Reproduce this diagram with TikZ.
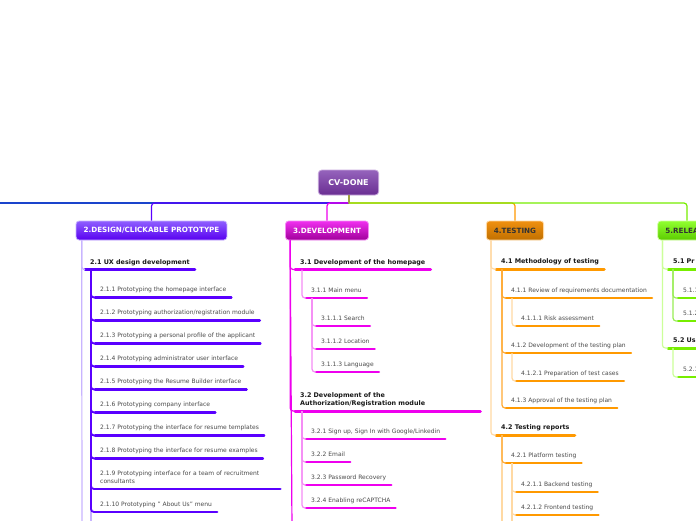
\documentclass[tikz,border=0pt]{standalone}
\usepackage{fontspec}
\setmainfont{DejaVu Sans}
\definecolor{cP}{HTML}{5A00FF}
\definecolor{cPl}{HTML}{C8B4FF}
\definecolor{cM}{HTML}{EE00EE}
\definecolor{cMl}{HTML}{F58CF5}
\definecolor{cO}{HTML}{FF9900}
\definecolor{cOm}{HTML}{FFAA33}
\definecolor{cOl}{HTML}{FFD9A3}
\definecolor{cG}{HTML}{77EE00}
\definecolor{cGm}{HTML}{99EE55}
\definecolor{cGl}{HTML}{CCFF99}
\definecolor{cB}{HTML}{1A44CC}
\definecolor{cOlv}{HTML}{A0A040}
\definecolor{txt}{HTML}{4A4A4A}
\definecolor{dtxt}{HTML}{333333}
\definecolor{cvT}{HTML}{9563BC}
\definecolor{cvB}{HTML}{6A2E92}
\definecolor{cvD}{HTML}{C8A8DD}
\definecolor{pT}{HTML}{8F5FFF}
\definecolor{pB}{HTML}{5800F0}
\definecolor{mT}{HTML}{F030F0}
\definecolor{mB}{HTML}{A0009A}
\definecolor{oT}{HTML}{F09010}
\definecolor{oB}{HTML}{C07000}
\definecolor{gT}{HTML}{90FF30}
\definecolor{gB}{HTML}{5CCC00}
\begin{document}
\begin{tikzpicture}[x=1pt,y=-1pt,
  box/.style={rounded corners=3pt, minimum height=19pt, inner xsep=7.5pt, inner ysep=0pt,
    font=\bfseries\fontsize{7.2}{8}\selectfont, line width=0.8pt},
  lvtwo/.style={anchor=south west, inner xsep=5pt, inner ysep=3.2pt,
    font=\bfseries\fontsize{6.4}{8}\selectfont, text=black!90,
    execute at end node={\rule[-0.3em]{0pt}{0.3em}}},
  lvthree/.style={anchor=south west, inner xsep=5pt, inner ysep=3.9pt,
    font=\fontsize{6}{8}\selectfont, text=txt,
    execute at end node={\rule[-0.3em]{0pt}{0.3em}}},
  ul/.style={append after command={(\tikzlastnode.south west) edge[draw=#1, line width=2.4pt, line cap=round] (\tikzlastnode.south east)}},
  ultwo/.style={append after command={(\tikzlastnode.south west) edge[draw=#1, line width=3pt, line cap=round] (\tikzlastnode.south east)}},
  topline/.style={line width=1.2pt, rounded corners=3pt},
  conn/.style={line width=1.2pt, rounded corners=3pt},
  connd/.style={line width=1.8pt, rounded corners=3pt}
]
\path[use as bounding box, fill=white] (0,0) rectangle (696,520);

% central and main topics
\node[box, rounded corners=3.5pt, minimum height=25pt, inner xsep=10pt, font=\bfseries\fontsize{8}{9}\selectfont,
  top color=cvT, bottom color=cvB, draw=cvD, text=white] (cv) at (348.5,182.5) {CV-DONE};
\node[box, top color=pT, bottom color=pB, draw=cPl, text=white] (d2) at (151.5,230.5) {2.DESIGN/CLICKABLE PROTOTYPE};
\node[box, top color=mT, bottom color=mB, draw=cMl, text=white] (d3) at (327,230.5) {3.DEVELOPMENT};
\node[box, top color=oT, bottom color=oB, draw=cOl, text=dtxt] (d4) at (515,230.5) {4.TESTING};
\node[box, top color=gT, bottom color=gB, draw=cGl, text=dtxt] (d5) at (687,230.5) {5.RELEASE};

% top connectors
\coordinate (hub) at (348.5,203);
\coordinate (w1) at (-60,203);
\draw[cB, topline] (hub) -- (w1);
\draw[cP, topline] (hub) -- (hub -| d2.north) -- (d2.north);
\draw[cM, topline] (hub) -- (hub -| d3.north) -- (d3.north);
\draw[cO, topline] (hub) -- (hub -| d4.north) -- (d4.north);
\draw[cG, topline] (hub) -- (hub -| d5.north) -- (d5.north);
\draw[cOlv, line width=2pt] (cv.south) -- (hub);

% ---- branch 2
\node[lvtwo, ultwo=cP] (n21) at (85,269.5) {2.1 UX design development};
\node[lvthree, ul=cP] (n211) at (95,297.5) {2.1.1 Prototyping the homepage interface};
\node[lvthree, ul=cP] (n212) at (95,320.5) {2.1.2 Prototyping authorization/registration module};
\node[lvthree, ul=cP] (n213) at (95,343.5) {2.1.3 Prototyping a personal profile of the applicant};
\node[lvthree, ul=cP] (n214) at (95,366.5) {2.1.4 Prototyping administrator user interface};
\node[lvthree, ul=cP] (n215) at (95,389.5) {2.1.5 Prototyping the Resume Builder interface};
\node[lvthree, ul=cP] (n216) at (95,412.5) {2.1.6 Prototyping company interface};
\node[lvthree, ul=cP] (n217) at (95,435.5) {2.1.7 Prototyping the interface for resume templates};
\node[lvthree, ul=cP] (n218) at (95,458.5) {2.1.8 Prototyping the interface for resume examples};
\node[lvthree, ul=cP, text width=175pt, align=left] (n219) at (95,489) {2.1.9 Prototyping interface for a team of recruitment\\consultants};
\node[lvthree, ul=cP] (n2110) at (95,512) {2.1.10 Prototyping " About Us" menu};

\coordinate (e2) at (82,530);
\coordinate (e21) at (91,530);
\draw[cPl, conn] ([xshift=6pt]d2.south west) -- (e2);
\draw[cPl, conn] ([xshift=6pt]d2.south west) |- (n21.south west);
\draw[cPl, conn] ([xshift=6pt]n21.south west) -- (e21);
\foreach \c in {211,212,213,214,215,216,217,218,219,2110}
  \draw[cP, connd] ([xshift=6pt]n21.south west) |- (n\c.south west);

% ---- branch 3
\node[lvtwo, ultwo=cM] (n31) at (295,269.5) {3.1 Development of the homepage};
\node[lvthree, ul=cM] (n311) at (306,298) {3.1.1 Main menu};
\node[lvthree, ul=cM] (n3111) at (316,326) {3.1.1.1 Search};
\node[lvthree, ul=cM] (n3112) at (316,349) {3.1.1.2 Location};
\node[lvthree, ul=cM] (n3113) at (316,372) {3.1.1.3 Language};
\node[lvtwo, ultwo=cM, text width=175pt, align=left] (n32) at (295,411) {3.2 Development of the\\Authorization/Registration module};
\node[lvthree, ul=cM] (n321) at (306,439) {3.2.1 Sign up, Sign In with Google/Linkedin};
\node[lvthree, ul=cM] (n322) at (306,462) {3.2.2 Email};
\node[lvthree, ul=cM] (n323) at (306,485) {3.2.3 Password Recovery};
\node[lvthree, ul=cM] (n324) at (306,508) {3.2.4 Enabling reCAPTCHA};

\coordinate (e3) at (292,530);
\draw[cM, conn] ([xshift=5pt]d3.south west) -- (e3);
\foreach \c in {31,32}
  \draw[cM, conn] ([xshift=5pt]d3.south west) |- (n\c.south west);
\draw[cMl, conn] ([xshift=7pt]n31.south west) |- (n311.south west);
\foreach \c in {3111,3112,3113}
  \draw[cMl, conn] ([xshift=6pt]n311.south west) |- (n\c.south west);
\foreach \c in {321,322,323,324}
  \draw[cMl, conn] ([xshift=7pt]n32.south west) |- (n\c.south west);

% ---- branch 4
\node[lvtwo, ultwo=cO] (n41) at (496,269) {4.1 Methodology of testing};
\node[lvthree, ul=cO] (n411) at (506,298) {4.1.1 Review of requirements documentation};
\node[lvthree, ul=cO] (n4111) at (516,326) {4.1.1.1 Risk assessment};
\node[lvthree, ul=cO] (n412) at (506,353) {4.1.2 Development of the testing plan};
\node[lvthree, ul=cO] (n4121) at (516,381) {4.1.2.1 Preparation of test cases};
\node[lvthree, ul=cO] (n413) at (506,408) {4.1.3 Approval of the testing plan};
\node[lvtwo, ultwo=cO] (n42) at (496,435) {4.2 Testing reports};
\node[lvthree, ul=cO] (n421) at (506,463) {4.2.1 Platform testing};
\node[lvthree, ul=cO] (n4211) at (516,492) {4.2.1.1 Backend testing};
\node[lvthree, ul=cO] (n4212) at (516,515) {4.2.1.2 Frontend testing};

\foreach \c in {41,42}
  \draw[cOl, conn] ([xshift=5pt]d4.south west) |- (n\c.south west);
\foreach \c in {411,412,413}
  \draw[cOm, conn] ([xshift=6pt]n41.south west) |- (n\c.south west);
\draw[cOl, conn] ([xshift=6pt]n411.south west) |- (n4111.south west);
\draw[cOl, conn] ([xshift=6pt]n412.south west) |- (n4121.south west);
\coordinate (e42) at (502,530);
\coordinate (e421) at (512,530);
\draw[cOl, conn] ([xshift=6pt]n42.south west) -- (e42);
\draw[cOm, conn] ([xshift=6pt]n42.south west) |- (n421.south west);
\draw[cOl, conn] ([xshift=6pt]n421.south west) -- (e421);
\foreach \c in {4211,4212}
  \draw[cOl, conn] ([xshift=6pt]n421.south west) |- (n\c.south west);

% ---- branch 5
\node[lvtwo, ultwo=cG, text width=40pt, align=left] (n51) at (668,269) {5.1 Pr};
\node[lvthree, ul=cG, text width=30pt, align=left] (n511) at (678,298) {5.1.1};
\node[lvthree, ul=cG, text width=30pt, align=left] (n512) at (678,321) {5.1.2};
\node[lvtwo, ultwo=cG, text width=40pt, align=left] (n52) at (668,348) {5.2 Us};
\node[lvthree, ul=cG, text width=30pt, align=left] (n521) at (678,377) {5.2.1};

\foreach \c in {51,52}
  \draw[cGl, conn] ([xshift=5pt]d5.south west) |- (n\c.south west);
\foreach \c in {511,512}
  \draw[cGm, conn] ([xshift=5pt]n51.south west) |- (n\c.south west);
\draw[cGl, conn] ([xshift=5pt]n52.south west) |- (n521.south west);
\end{tikzpicture}
\end{document}
